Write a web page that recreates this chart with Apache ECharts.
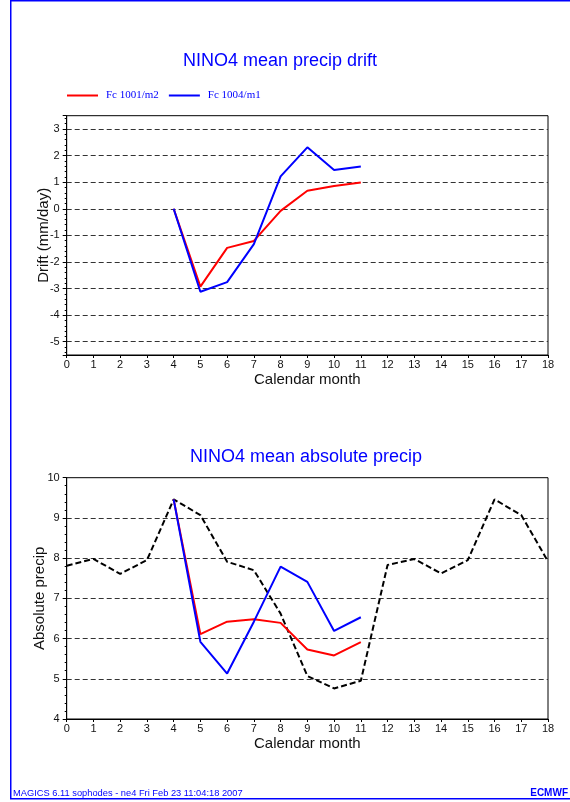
<!DOCTYPE html>
<html><head><meta charset="utf-8">
<script src="https://cdn.jsdelivr.net/npm/echarts@6/dist/echarts.min.js"></script>
<style>html,body{margin:0;padding:0;background:#fff}#c{width:570px;height:802px}</style>
</head><body><div id="c"></div>
<script>
// ---- data ----
const fcMonths = [4, 5, 6, 7, 8, 9, 10, 11];
const driftFc1001 = [0, -2.93, -1.47, -1.21, -0.08, 0.68, 0.86, 0.99];
const driftFc1004 = [0, -3.12, -2.76, -1.33, 1.22, 2.31, 1.46, 1.59];
const climMonths = [0, 1, 2, 3, 4, 5, 6, 7, 8, 9, 10, 11, 12, 13, 14, 15, 16, 17, 18];
const climPrecip = [7.81, 7.98, 7.61, 7.95, 9.46, 9.07, 7.91, 7.70, 6.62, 5.07, 4.76, 4.95, 7.83, 7.98, 7.62, 7.95, 9.46, 9.07, 7.92];
const absFc1001 = [9.46, 6.11, 6.42, 6.48, 6.39, 5.73, 5.58, 5.91];
const absFc1004 = [9.46, 5.92, 5.13, 6.42, 7.79, 7.41, 6.19, 6.53];
const seriesNames = ['Fc 1001/m2', 'Fc 1004/m1'];
const titles = ['NINO4 mean precip drift', 'NINO4 mean absolute precip'];
const xAxisName = 'Calendar month';
const yAxisNames = ['Drift (mm/day)', 'Absolute precip'];
const footerText = 'MAGICS 6.11 sophodes - ne4 Fri Feb 23 11:04:18 2007';

const zip = (xs, ys) => xs.map((x, i) => [x, ys[i]]);
const FONT = 'Liberation Sans';
const BLUE = '#0000ff';

function xAx(gi) {
  return {
    type: 'value', gridIndex: gi, min: 0, max: 18, interval: 1,
    name: xAxisName, nameLocation: 'middle', nameGap: 17, nameMoveOverlap: false,
    nameTextStyle: { fontFamily: FONT, fontSize: 15, color: '#111' },
    axisLine: { show: true, onZero: false, lineStyle: { color: '#000', width: 1 } },
    axisTick: { show: true, length: 3, lineStyle: { color: '#000' } },
    axisLabel: { fontFamily: FONT, fontSize: 11, color: '#111', margin: 4 },
    splitLine: { show: false }
  };
}
function yAx(gi, extra) {
  return Object.assign({
    type: 'value', gridIndex: gi,
    name: yAxisNames[gi], nameLocation: 'middle', nameRotate: 90, nameMoveOverlap: false,
    nameTextStyle: { fontFamily: FONT, fontSize: 15, color: '#111' },
    axisLine: { show: true, onZero: false, lineStyle: { color: '#000', width: 1 } },
    axisTick: { show: true, length: 4, lineStyle: { color: '#000' } },
    minorTick: { show: true, splitNumber: 5, length: 2, lineStyle: { color: '#000' } },
    axisLabel: { fontFamily: FONT, fontSize: 11, color: '#111', margin: 7,
      formatter: v => Number.isInteger(v) ? String(v) : '' },
    splitLine: { show: true, showMinLine: false, showMaxLine: false,
      lineStyle: { color: '#333', width: 1, type: [5, 3] } }
  }, extra);
}
function lineSeries(name, data, color, xi, extra) {
  return Object.assign({
    type: 'line', name, data, xAxisIndex: xi, yAxisIndex: xi,
    showSymbol: false, symbol: 'none', silent: true, animation: false,
    lineStyle: { color, width: 2 }, itemStyle: { color }
  }, extra || {});
}

const chart = echarts.init(document.getElementById('c'), null, { renderer: 'canvas' });
chart.setOption({
  animation: false,
  backgroundColor: '#fff',
  grid: [
    { left: 66.7, right: 22, top: 115.7, bottom: 447, show: true, borderColor: '#000', borderWidth: 1, backgroundColor: 'transparent' },
    { left: 66.7, right: 22, top: 477.7, bottom: 83, show: true, borderColor: '#000', borderWidth: 1, backgroundColor: 'transparent' }
  ],
  legend: {
    data: seriesNames, left: 62, top: 85, itemWidth: 31, itemHeight: 2, itemGap: 10,
    icon: 'rect', selectedMode: false,
    textStyle: { fontFamily: 'Liberation Serif', fontSize: 11, color: BLUE, padding: [0, 0, 0, 3] }
  },
  xAxis: [xAx(0), xAx(1)],
  yAxis: [
    yAx(0, { min: -5.5, max: 3.5, splitNumber: 9, nameGap: 15 }),
    yAx(1, { min: 4, max: 10, interval: 1, nameGap: 19 })
  ],
  series: [
    lineSeries(seriesNames[0], zip(fcMonths, driftFc1001), '#ff0000', 0),
    lineSeries(seriesNames[1], zip(fcMonths, driftFc1004), BLUE, 0),
    lineSeries('Climate', zip(climMonths, climPrecip), '#000', 1, { lineStyle: { color: '#000', width: 2, type: [6, 3] } }),
    lineSeries(seriesNames[0], zip(fcMonths, absFc1001), '#ff0000', 1),
    lineSeries(seriesNames[1], zip(fcMonths, absFc1004), BLUE, 1)
  ],
  graphic: [
    { type: 'rect', shape: { x: 10.75, y: 0.75, width: 600, height: 798 }, style: { fill: 'none', stroke: BLUE, lineWidth: 1.5 }, silent: true },
    { type: 'text', x: 280, y: 61, style: { text: titles[0], fill: BLUE, font: '18px "Liberation Sans"', textAlign: 'center', textVerticalAlign: 'middle' } },
    { type: 'text', x: 306, y: 457, style: { text: titles[1], fill: BLUE, font: '18px "Liberation Sans"', textAlign: 'center', textVerticalAlign: 'middle' } },
    { type: 'text', x: 13, y: 793, style: { text: footerText, fill: BLUE, font: '9.3px "Liberation Sans"', textAlign: 'left', textVerticalAlign: 'middle' } },
    { type: 'text', x: 568, y: 793, style: { text: 'ECMWF', fill: BLUE, font: 'bold 10px "Liberation Sans Narrow", "Liberation Sans"', textAlign: 'right', textVerticalAlign: 'middle' } }
  ]
});
</script></body></html>
